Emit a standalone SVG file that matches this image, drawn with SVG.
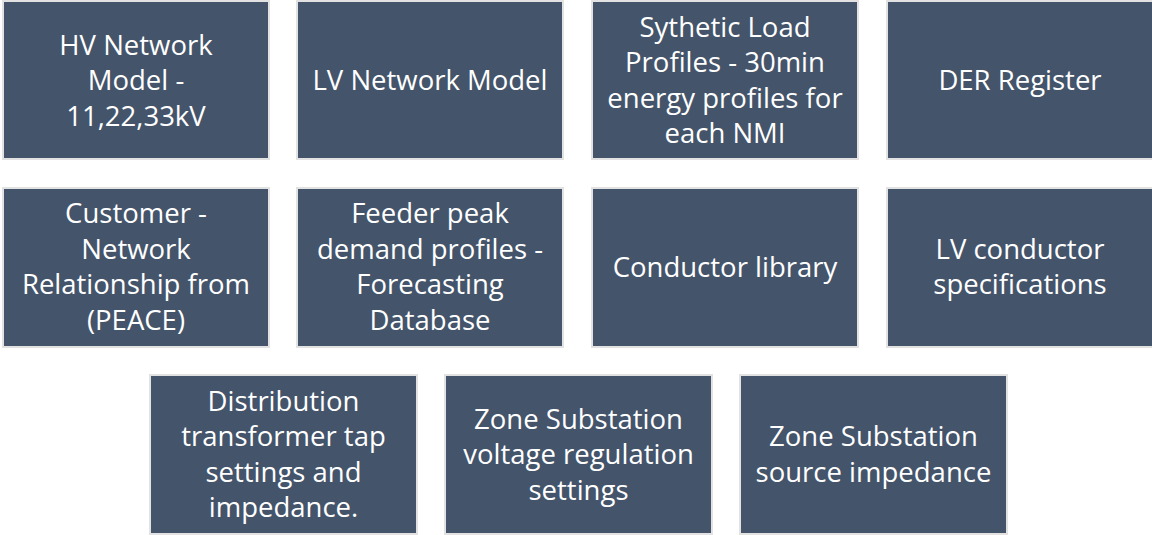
<svg xmlns="http://www.w3.org/2000/svg" width="1152" height="535" viewBox="0 0 1152 535">
  <style>
    .box { fill: #44546A; stroke: #E2E2E2; stroke-width: 2; }
    .lbl { fill: #FFFFFF; font-family: "Open Sans", "Liberation Sans", sans-serif; font-size: 27.5px; text-anchor: middle; }
  </style>
  <rect width="1152" height="535" fill="#FFFFFF"/>

  <!-- Row 1 -->
  <g id="hv-network-model">
    <rect class="box" x="3" y="1" width="266" height="158"/>
    <text class="lbl" x="136" y="54.5">HV Network</text>
    <text class="lbl" x="136" y="90">Model -</text>
    <text class="lbl" x="136" y="125.5">11,22,33kV</text>
  </g>
  <g id="lv-network-model">
    <rect class="box" x="297" y="1" width="266" height="158"/>
    <text class="lbl" x="430" y="89.5">LV Network Model</text>
  </g>
  <g id="synthetic-load-profiles">
    <rect class="box" x="592" y="1" width="266" height="158"/>
    <text class="lbl" x="725" y="36.5">Sythetic Load</text>
    <text class="lbl" x="725" y="72">Profiles - 30min</text>
    <text class="lbl" x="725" y="107.5">energy profiles for</text>
    <text class="lbl" x="725" y="143">each NMI</text>
  </g>
  <g id="der-register">
    <rect class="box" x="887" y="1" width="266" height="158"/>
    <text class="lbl" x="1020" y="89.5">DER Register</text>
  </g>

  <!-- Row 2 -->
  <g id="customer-network-relationship">
    <rect class="box" x="3" y="188" width="266" height="159"/>
    <text class="lbl" x="136" y="223">Customer -</text>
    <text class="lbl" x="136" y="258.5">Network</text>
    <text class="lbl" x="136" y="294">Relationship from</text>
    <text class="lbl" x="136" y="329.5">(PEACE)</text>
  </g>
  <g id="feeder-peak-demand">
    <rect class="box" x="297" y="188" width="266" height="159"/>
    <text class="lbl" x="430" y="223">Feeder peak</text>
    <text class="lbl" x="430" y="258.5">demand profiles -</text>
    <text class="lbl" x="430" y="294">Forecasting</text>
    <text class="lbl" x="430" y="329.5">Database</text>
  </g>
  <g id="conductor-library">
    <rect class="box" x="592" y="188" width="266" height="159"/>
    <text class="lbl" x="725" y="276.5">Conductor library</text>
  </g>
  <g id="lv-conductor-specifications">
    <rect class="box" x="887" y="188" width="266" height="159"/>
    <text class="lbl" x="1020" y="258.5">LV conductor</text>
    <text class="lbl" x="1020" y="294">specifications</text>
  </g>

  <!-- Row 3 -->
  <g id="distribution-transformer">
    <rect class="box" x="150" y="375" width="267" height="159"/>
    <text class="lbl" x="283.5" y="410.5">Distribution</text>
    <text class="lbl" x="283.5" y="446">transformer tap</text>
    <text class="lbl" x="283.5" y="481.5">settings and</text>
    <text class="lbl" x="283.5" y="517">impedance.</text>
  </g>
  <g id="zone-voltage-regulation">
    <rect class="box" x="445" y="375" width="267" height="159"/>
    <text class="lbl" x="578.5" y="428.5">Zone Substation</text>
    <text class="lbl" x="578.5" y="464">voltage regulation</text>
    <text class="lbl" x="578.5" y="499.5">settings</text>
  </g>
  <g id="zone-source-impedance">
    <rect class="box" x="740" y="375" width="267" height="159"/>
    <text class="lbl" x="873.5" y="446">Zone Substation</text>
    <text class="lbl" x="873.5" y="481.5">source impedance</text>
  </g>

  <g id="connectors"/>
</svg>
